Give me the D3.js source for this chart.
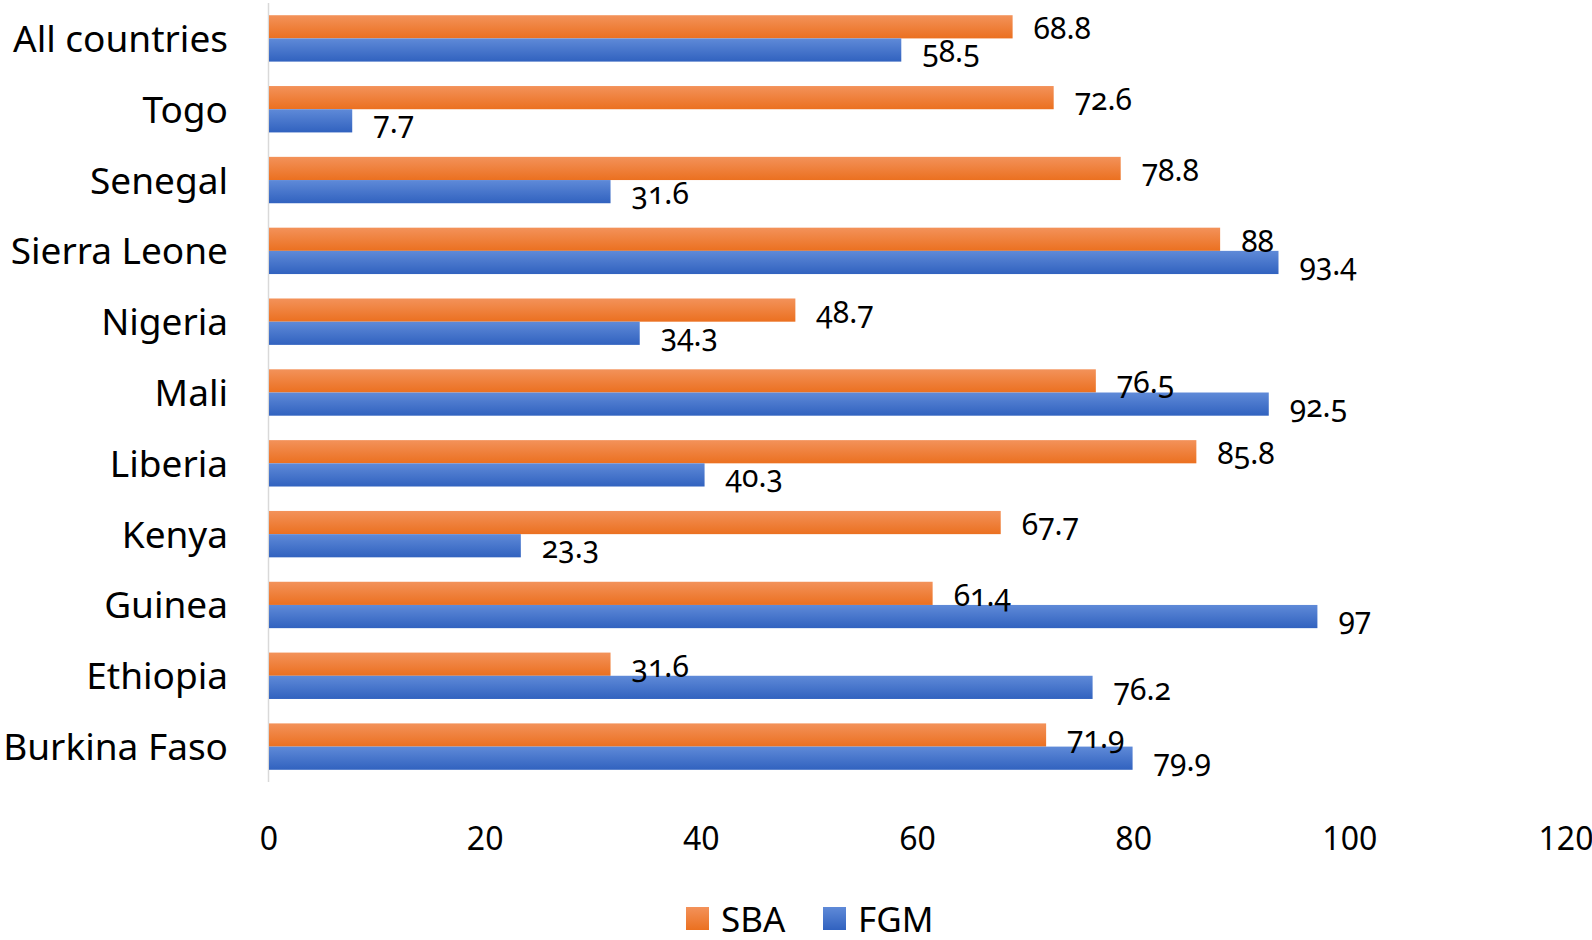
<!DOCTYPE html>
<html>
<head>
<meta charset="utf-8">
<script src="https://cdn.jsdelivr.net/npm/d3@7"></script>
<style>
  body { margin: 0; background: #fff; }
  text { font-family: "Noto Sans", "Open Sans", sans-serif; fill: #000; }
</style>
</head>
<body>
<script>
// chart data
var countries = ["All countries", "Togo", "Senegal", "Sierra Leone", "Nigeria", "Mali",
                 "Liberia", "Kenya", "Guinea", "Ethiopia", "Burkina Faso"];
var sba = [68.8, 72.6, 78.8, 88, 48.7, 76.5, 85.8, 67.7, 61.4, 31.6, 71.9];
var fgm = [58.5, 7.7, 31.6, 93.4, 34.3, 92.5, 40.3, 23.3, 97, 76.2, 79.9];
var seriesNames = ["SBA", "FGM"];
var xTicks = [0, 20, 40, 60, 80, 100, 120];

var width = 1592, height = 940;

var svg = d3.select("body").append("svg")
    .attr("width", width)
    .attr("height", height);

// gradients like the office-style bars
var defs = svg.append("defs");
function grad(id, top, bottom) {
    var g = defs.append("linearGradient").attr("id", id)
        .attr("x1", 0).attr("y1", 0).attr("x2", 0).attr("y2", 1);
    g.append("stop").attr("offset", "0%").attr("stop-color", top);
    g.append("stop").attr("offset", "100%").attr("stop-color", bottom);
}
grad("gSBA", "#f3925a", "#eb7020");
grad("gFGM", "#5f8ad8", "#3162bf");

var x = d3.scaleLinear().domain([0, 120]).range([269, 1566]);

var y = d3.scaleBand().domain(countries).range([3, 782])
    .paddingInner(0.345).paddingOuter(0.1725);

var sub = d3.scaleBand().domain(seriesNames).range([0, y.bandwidth()]);

// vertical axis line
svg.append("line")
    .attr("x1", x(0) - 0.5).attr("x2", x(0) - 0.5)
    .attr("y1", 3).attr("y2", 782)
    .attr("stroke", "#d9d9d9").attr("stroke-width", 1.5);

var rows = countries.map(function(c, i) {
    return {country: c, values: [{s: "SBA", v: sba[i]}, {s: "FGM", v: fgm[i]}]};
});

var group = svg.selectAll(".row").data(rows).enter()
    .append("g")
    .attr("transform", function(d) { return "translate(0," + y(d.country) + ")"; });

group.selectAll("rect").data(function(d) { return d.values; }).enter()
    .append("rect")
    .attr("x", x(0))
    .attr("y", function(d) { return sub(d.s); })
    .attr("width", function(d) { return x(d.v) - x(0); })
    .attr("height", sub.bandwidth())
    .attr("fill", function(d) { return d.s == "SBA" ? "url(#gSBA)" : "url(#gFGM)"; });

// value labels
group.selectAll(".val").data(function(d) { return d.values; }).enter()
    .append("text")
    .attr("x", function(d) { return x(d.v) + 21; })
    .attr("y", function(d) { return sub(d.s) + sub.bandwidth() / 2 + 1; })
    .attr("dominant-baseline", "central")
    .attr("font-size", 30)
    .style("font-variant-numeric", "oldstyle-nums")
    .text(function(d) { return d.v; });

// category labels
svg.selectAll(".cat").data(countries).enter()
    .append("text")
    .attr("x", 228)
    .attr("y", function(d) { return y(d) + y.bandwidth() / 2 - 1; })
    .attr("text-anchor", "end")
    .attr("dominant-baseline", "central")
    .attr("font-size", 37)
    .text(function(d) { return d; });

// x tick labels
svg.selectAll(".tick").data(xTicks).enter()
    .append("text")
    .attr("x", function(d) { return x(d); })
    .attr("y", 837)
    .attr("text-anchor", "middle")
    .attr("dominant-baseline", "central")
    .attr("font-size", 32)
    .text(function(d) { return d; });

// legend
var legend = [{name: "SBA", fill: "url(#gSBA)", x: 686}, {name: "FGM", fill: "url(#gFGM)", x: 823}];
var lg = svg.selectAll(".leg").data(legend).enter().append("g")
    .attr("transform", function(d) { return "translate(" + d.x + ",907)"; });
lg.append("rect").attr("width", 23).attr("height", 23)
    .attr("fill", function(d) { return d.fill; });
lg.append("text")
    .attr("x", 35).attr("y", 11)
    .attr("dominant-baseline", "central")
    .attr("font-size", 35)
    .text(function(d) { return d.name; });
</script>
</body>
</html>
